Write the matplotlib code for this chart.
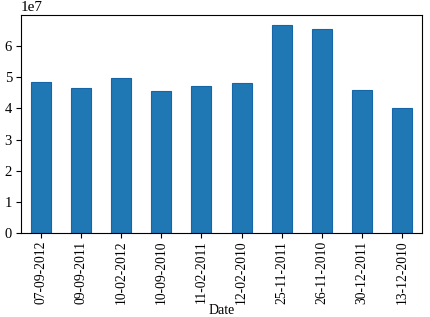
import matplotlib
matplotlib.use("Agg")
import matplotlib.pyplot as plt

dates = ["07-09-2012", "09-09-2011", "10-02-2012", "10-09-2010", "11-02-2011",
         "12-02-2010", "25-11-2011", "26-11-2010", "30-12-2011", "13-12-2010"]
sales = [4.84e7, 4.67e7, 4.99e7, 4.55e7, 4.73e7,
         4.83e7, 6.67e7, 6.56e7, 4.61e7, 4.03e7]
yticks = [0, 1e7, 2e7, 3e7, 4e7, 5e7, 6e7]

plt.rcParams['font.family'] = ['Liberation Serif', 'DejaVu Serif']
plt.rcParams['font.size'] = 10

fig = plt.figure(figsize=(4.3, 3.17), dpi=100)
ax = fig.add_axes([21 / 430, 1 - 233 / 317, 401 / 430, 218 / 317])

x = range(len(dates))
ax.bar(x, sales, width=0.5, color="#1f77b4", edgecolor="#1565a8", linewidth=0.8)
ax.set_xlim(-0.5, len(dates) - 0.5)
ax.set_ylim(0, max(sales) * 1.05)
ax.set_yticks(yticks)
ax.set_xticks(list(x))
ax.set_xticklabels(dates, rotation=90)
ax.tick_params(axis="x", labelsize=9.8, length=3.5, pad=2)
ax.tick_params(axis="y", labelsize=10.5, length=3.5, pad=3)
ax.yaxis.get_offset_text().set_fontsize(11)
ax.set_xlabel("Date", fontsize=10, labelpad=0)

fig.savefig("out.png", dpi=100)
